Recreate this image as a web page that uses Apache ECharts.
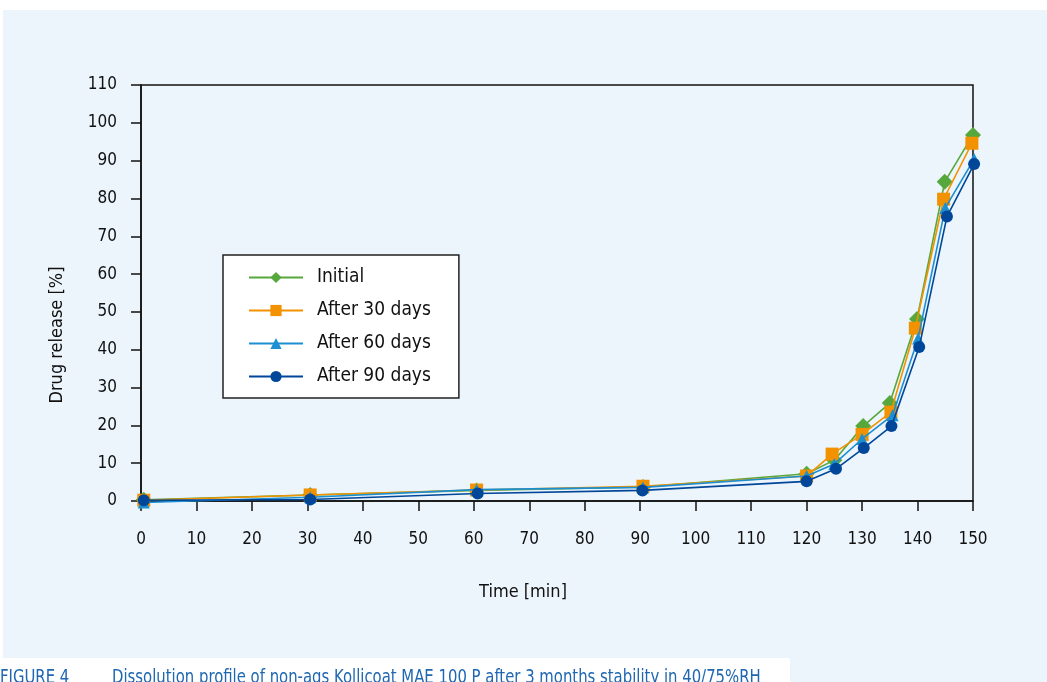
<!DOCTYPE html>
<html><head><meta charset="utf-8">
<script src="https://cdn.jsdelivr.net/npm/echarts@6/dist/echarts.min.js"></script>
<style>html,body{margin:0;padding:0;background:#fff;}#c{width:1047px;height:682px;}</style>
</head><body><div id="c"></div>
<script>
const seriesNames = ['Initial', 'After 30 days', 'After 60 days', 'After 90 days'];
const timeInitial = [0.5, 30.5, 60.5, 90.5, 120, 125, 130.2, 135, 139.9, 144.9, 150];
const valInitial  = [0.3, 1.6, 2.8, 3.7, 7.2, 10.8, 19.8, 25.9, 48.1, 84.4, 96.8];
const time30 = [0.5, 30.5, 60.5, 90.5, 120, 124.6, 130, 135.2, 139.6, 144.7, 149.8];
const val30  = [0.2, 1.6, 2.9, 3.9, 6.6, 12.4, 17.6, 23.5, 45.7, 79.8, 94.6];
const time60 = [0.5, 30.5, 60.5, 90.5, 120, 125, 130, 135.5, 140.1, 145, 150.2];
const val60  = [-0.4, 1.0, 3.0, 3.6, 6.6, 9.8, 16.4, 22.7, 43.0, 77.5, 90.4];
const time90 = [0.5, 30.5, 60.7, 90.4, 120, 125.3, 130.3, 135.3, 140.3, 145.3, 150.2];
const val90  = [0.2, 0.4, 2.0, 2.8, 5.2, 8.5, 14.0, 19.8, 40.7, 75.2, 89.1];
const xTicks = [0,10,20,30,40,50,60,70,80,90,100,110,120,130,140,150];
const yTicks = [0,10,20,30,40,50,60,70,80,90,100,110];

const FONT = "'Liberation Sans Narrow', 'DejaVu Sans Condensed', 'Liberation Sans', sans-serif";
const colors = ['#57a83c', '#f39200', '#1b8fd2', '#00479a'];
const symbols = ['diamond', 'rect', 'triangle', 'circle'];
const sizes = [16, 13, 12, 12];
const times = [timeInitial, time30, time60, time90];
const vals = [valInitial, val30, val60, val90];

const chart = echarts.init(document.getElementById('c'), null, {renderer: 'canvas'});
chart.setOption({
  animation: false,
  backgroundColor: '#ffffff',
  graphic: [
    {type: 'rect', z: -10, shape: {x: 3, y: 10, width: 1044, height: 672}, style: {fill: '#ecf4fc'}},
    {type: 'rect', z: -9, shape: {x: 0, y: 658, width: 790, height: 24}, style: {fill: '#ffffff'}},
    {type: 'text', x: 0, y: 678, scaleX: 0.87, style: {text: 'FIGURE 4', font: '19px ' + FONT, fill: '#1f67b1', verticalAlign: 'middle'}},
    {type: 'text', x: 112, y: 678, scaleX: 0.87, style: {text: 'Dissolution profile of non-ags Kollicoat MAE 100 P after 3 months stability in 40/75%RH', font: '19px ' + FONT, fill: '#1f67b1', verticalAlign: 'middle'}},
    {type: 'text', x: 57, y: 335, rotation: Math.PI / 2, style: {text: 'Drug release [%]', font: '18px ' + FONT, fill: '#111', align: 'center', verticalAlign: 'middle'}},
    {type: 'text', x: 523, y: 592, style: {text: 'Time [min]', font: '18px ' + FONT, fill: '#111', align: 'center', verticalAlign: 'middle'}}
  ],
  grid: {left: 141, right: 74, top: 85, bottom: 181, show: true, borderColor: '#111', borderWidth: 1.5, backgroundColor: 'transparent'},
  legend: {
    orient: 'vertical', left: 223, top: 255,
    backgroundColor: '#ffffff', borderColor: '#222', borderWidth: 1.5,
    padding: [13, 28, 12, 25], itemWidth: 54, itemHeight: 14, itemGap: 14,
    textStyle: {fontFamily: FONT, fontSize: 19, lineHeight: 18, color: '#111', padding: [0, 0, 0, 9]},
    data: seriesNames
  },
  xAxis: {
    type: 'value', min: 0, max: 150, interval: 10,
    axisLine: {show: true, onZero: false, lineStyle: {color: '#111', width: 1.5}},
    axisTick: {show: true, inside: false, length: 10, lineStyle: {color: '#111', width: 1.5}},
    axisLabel: {fontFamily: FONT, fontSize: 17, color: '#111', margin: 30,
      formatter: v => xTicks.includes(v) ? String(v) : ''},
    splitLine: {show: false}
  },
  yAxis: {
    type: 'value', min: 0, max: 110, interval: 10,
    axisLine: {show: true, onZero: false, lineStyle: {color: '#111', width: 1.5}},
    axisTick: {show: true, inside: false, length: 10, lineStyle: {color: '#111', width: 1.5}},
    axisLabel: {fontFamily: FONT, fontSize: 17, color: '#111', margin: 24,
      formatter: v => yTicks.includes(v) ? String(v) : ''},
    splitLine: {show: false}
  },
  series: seriesNames.map((n, i) => ({
    name: n, type: 'line',
    data: times[i].map((t, k) => [t, vals[i][k]]),
    symbol: symbols[i], symbolSize: sizes[i], showAllSymbol: true,
    itemStyle: {color: colors[i]},
    lineStyle: {color: colors[i], width: 1.6},
    z: 2 + i, clip: false
  }))
});
</script></body></html>
